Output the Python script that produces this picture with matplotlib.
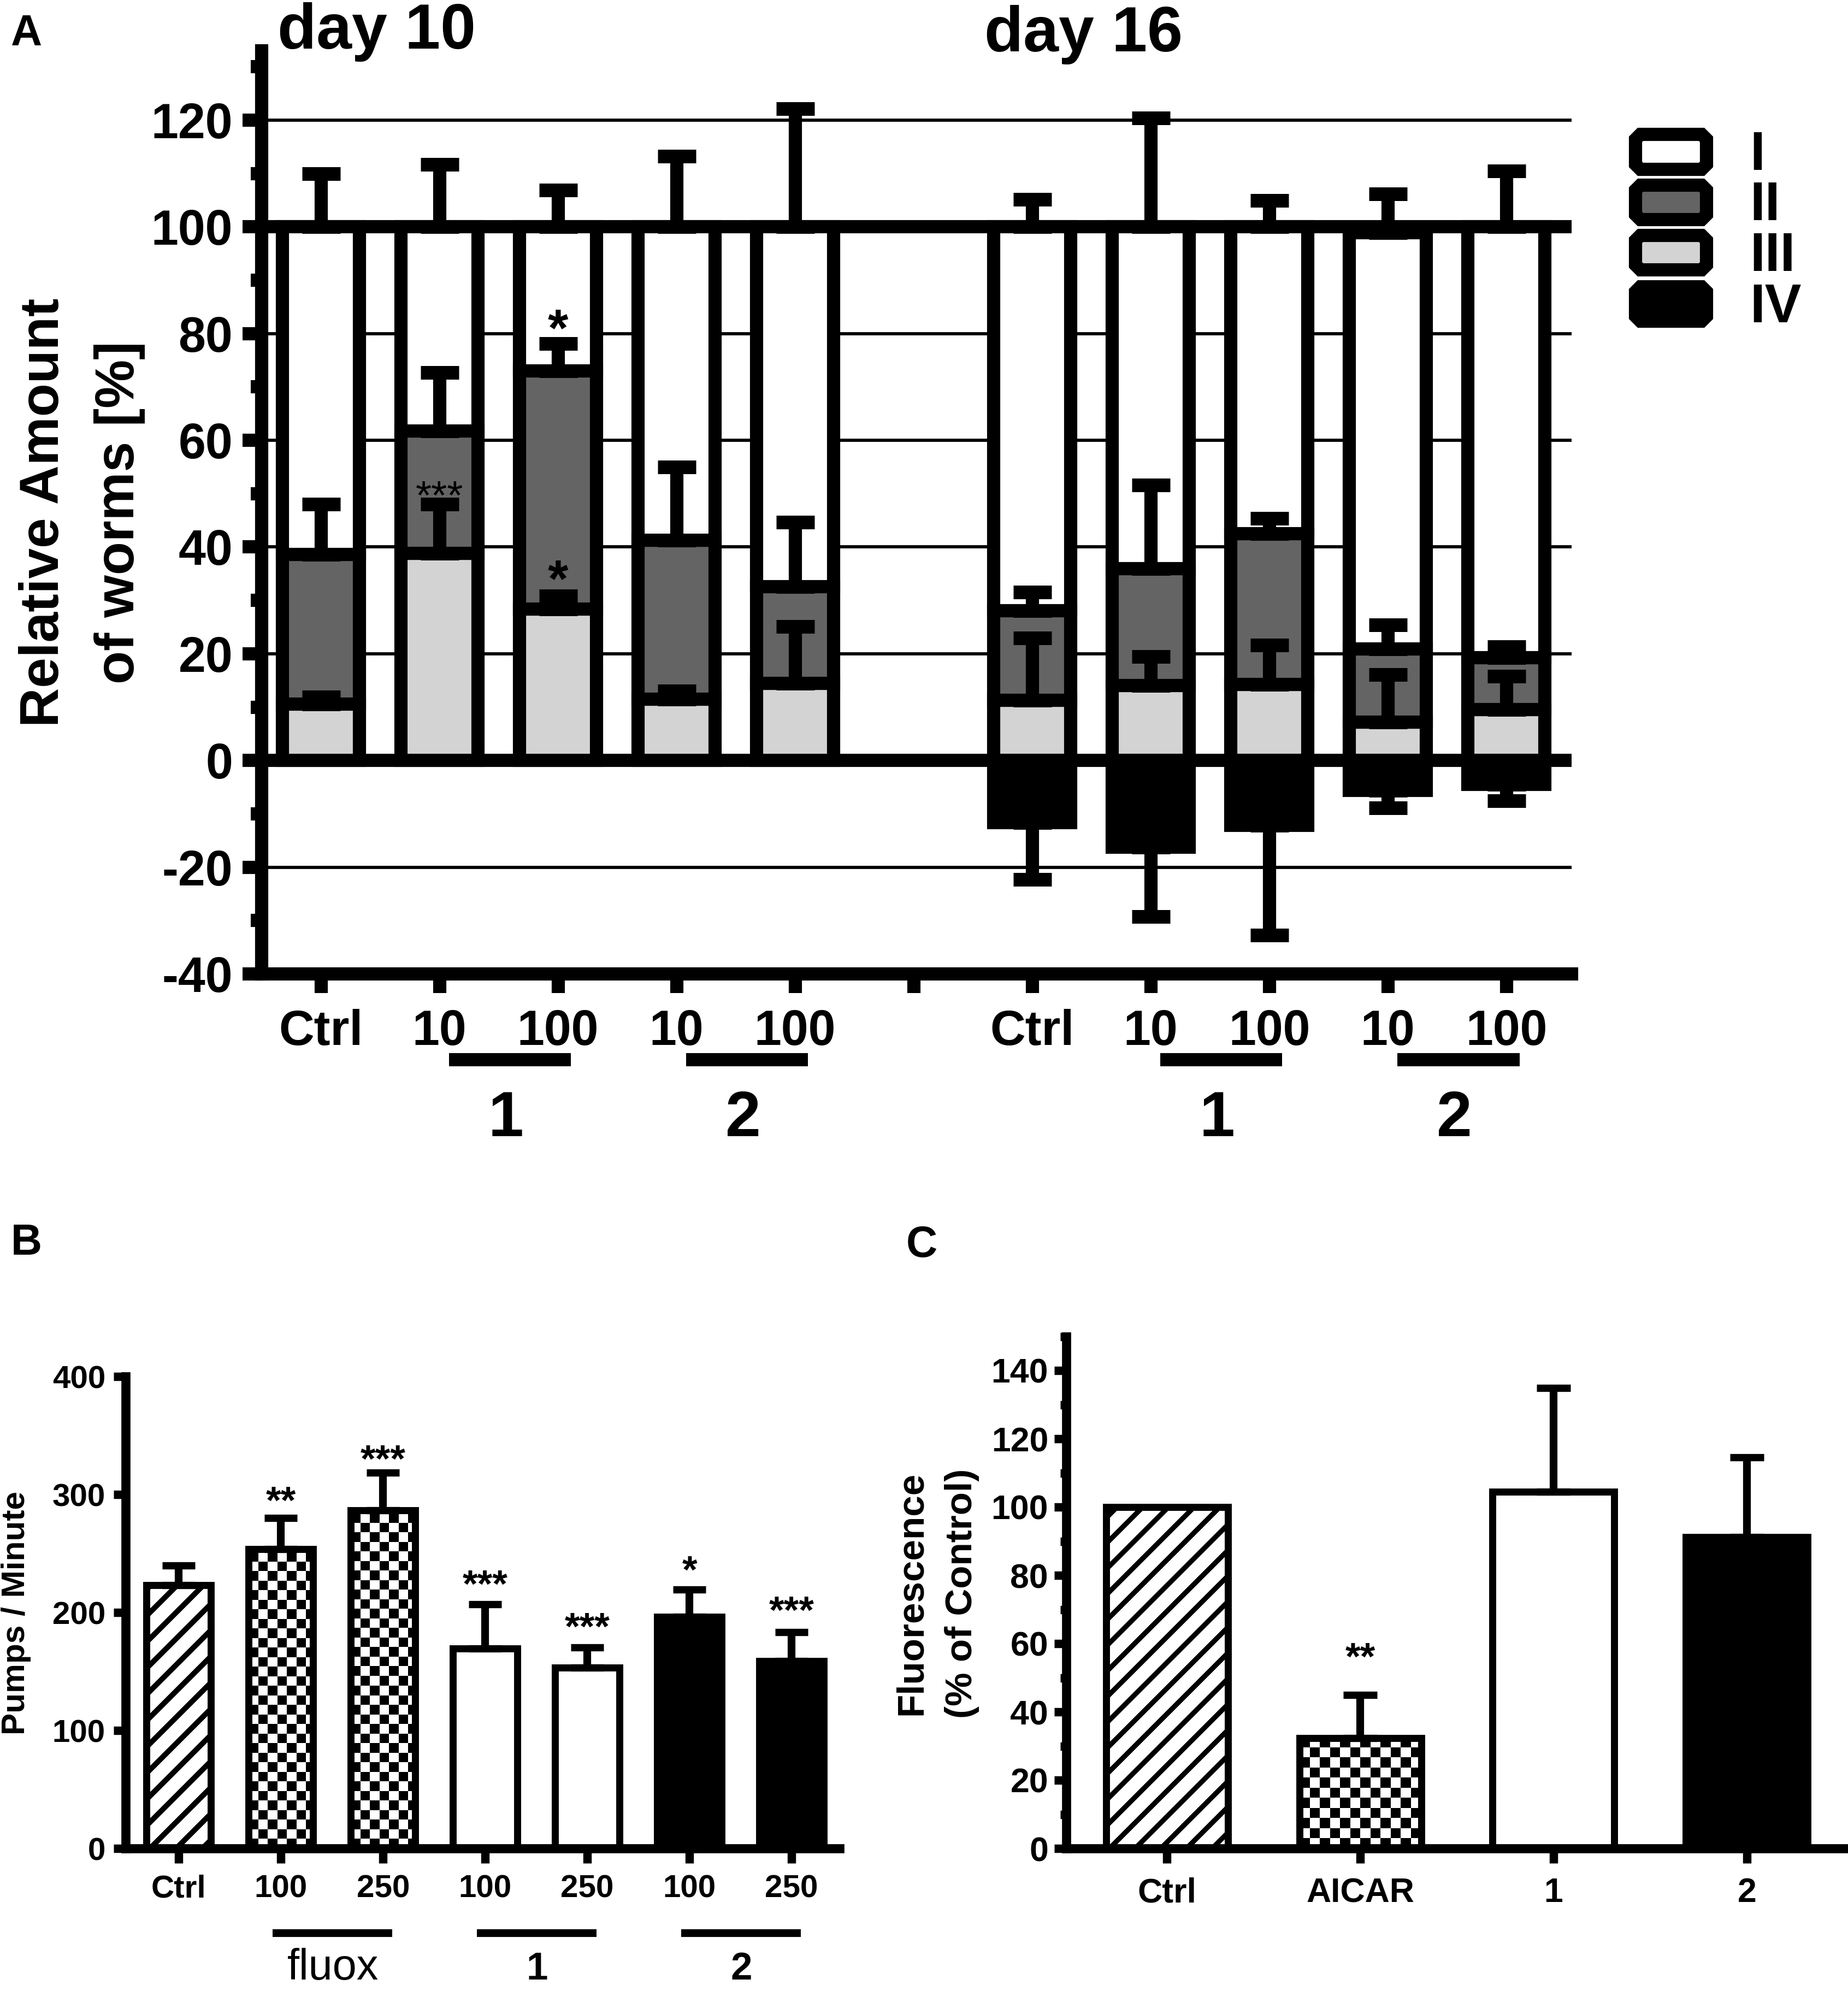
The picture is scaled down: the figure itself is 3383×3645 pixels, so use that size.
import numpy as np
import matplotlib
matplotlib.use("Agg")
import matplotlib.pyplot as plt
from matplotlib.patches import Polygon
from matplotlib.transforms import blended_transform_factory

W, H, DPI = 3383, 3645, 300

plt.rcParams['font.family'] = ['Liberation Sans', 'DejaVu Sans']
plt.rcParams['font.weight'] = 'bold'
plt.rcParams['axes.unicode_minus'] = False

# ---------------- data: panel A (stacked stages, % of worms) ----------------
a_pos = [0, 1, 2, 3, 4, 6, 7, 8, 9, 10]
a_ticklabels = ["Ctrl", "10", "100", "10", "100", "", "Ctrl", "10", "100", "10", "100"]
stage_iii = [10.6, 38.8, 28.4, 11.5, 14.5, 11.3, 14.0, 14.3, 7.2, 9.5]
stage_ii = [28.0, 23.0, 44.6, 29.8, 18.1, 16.8, 22.0, 28.2, 13.7, 9.8]
stage_i = [61.4, 38.2, 27.0, 58.7, 67.4, 71.9, 64.0, 57.5, 78.0, 80.7]
stage_iv = [0, 0, 0, 0, 0, 11.6, 16.2, 12.2, 5.6, 4.5]
err_i = [10.0, 11.7, 6.9, 13.2, 22.2, 5.2, 20.4, 5.0, 7.3, 10.5]
err_ii = [9.4, 10.9, 5.1, 13.7, 12.1, 3.5, 15.6, 2.9, 4.5, 2.0]
err_iii = [1.3, 9.2, 2.4, 1.5, 10.6, 11.7, 5.5, 7.3, 8.9, 6.3]
err_iv = [0, 0, 0, 0, 0, 10.7, 13.1, 20.5, 3.3, 3.1]
a_star_x = [1, 2, 2]
a_star_y = [51.6, 36.5, 83.5]
a_star_txt = ["***", "*", "*"]
a_star_size = [18, 23, 23]
a_star_weight = ["normal", "bold", "bold"]
a_groups = [("1", 1), ("2", 3), ("1", 7), ("2", 9)]
a_days = [("day 10", 508, 89), ("day 16", 1802, 94)]
stage_names = ["I", "II", "III", "IV"]
stage_colors = ["white", "#646464", "#d3d3d3", "black"]

# ---------------- data: panel B (pumps / minute) ----------------
b_labels = ["Ctrl", "100", "250", "100", "250", "100", "250"]
b_vals = [223, 253.7, 286.6, 169.4, 153.3, 196.3, 158.8]
b_err = [17.0, 26.3, 31.9, 37.5, 17.1, 23.2, 24.5]
b_fill = ["stripe", "checker", "checker", "white", "white", "black", "black"]
b_star_txt = ["", "**", "***", "***", "***", "*", "***"]
b_star_y = [0, 302.8, 338, 232, 196, 244, 210]
b_groups = [("fluox", 1), ("1", 3), ("2", 5)]

# ---------------- data: panel C (fluorescence) ----------------
c_labels = ["Ctrl", "AICAR", "1", "2"]
c_vals = [100, 32.3, 104.5, 91.2]
c_err = [0, 12.7, 30.4, 23.4]
c_fill = ["stripe", "checker", "white", "black"]
c_star_txt = ["", "**", "", ""]
c_star_y = [0, 58.9, 0, 0]


def fx(px):
    return px / W


def fy(py):
    return 1 - py / H


def fill_texture(ax, bar, kind, cell=17.5, period=48, thick=14):
    # pixel pattern clipped to the bar outline
    x0, y0 = bar.get_x(), bar.get_y()
    x1, y1 = x0 + bar.get_width(), y0 + bar.get_height()
    (p0x, p0y), (p1x, p1y) = ax.transData.transform([(x0, y0), (x1, y1)])
    nx, ny = int(round(p1x - p0x)), int(round(p1y - p0y))
    ix, iy = np.meshgrid(np.arange(nx), np.arange(ny))
    if kind == "checker":
        img = ((ix // cell).astype(int) + (iy // cell).astype(int)) % 2
    else:
        img = (((ix - iy) % period) >= thick).astype(int)
    im = ax.imshow(img, extent=[x0, x1, y0, y1], origin="lower", cmap="gray",
                   vmin=0, vmax=1, interpolation="nearest", aspect="auto",
                   zorder=bar.get_zorder() - 0.05)
    im.set_clip_path(bar)


def stars(ax, xs, ys, txts, sizes, weights):
    for x, y, t, s, w in zip(xs, ys, txts, sizes, weights):
        if not t:
            continue
        ax.annotate(t, (x, y), xytext=(0, -0.58 * s), textcoords="offset points",
                    ha="center", va="baseline", fontsize=s, fontweight=w)


def group_line(ax, x0, x1, ypx, lw):
    tr = blended_transform_factory(ax.transData, fig.transFigure)
    ax.plot([x0, x1], [fy(ypx), fy(ypx)], color="k", lw=lw, transform=tr,
            clip_on=False, solid_capstyle="butt")


def group_text(ax, x, ypx, s, size, weight="bold"):
    tr = blended_transform_factory(ax.transData, fig.transFigure)
    ax.text(x, fy(ypx), s, transform=tr, ha="center", va="baseline",
            fontsize=size, fontweight=weight)


def octagon(x0, y0, x1, y1, c):
    # corners cut like the GraphPad legend boxes, pixel input -> inches
    pts = [(x0 + c, y0), (x1 - c, y0), (x1, y0 + c), (x1, y1 - c),
           (x1 - c, y1), (x0 + c, y1), (x0, y1 - c), (x0, y0 + c)]
    return [(px / DPI, (H - py) / DPI) for px, py in pts]


fig = plt.figure(figsize=(W / DPI, H / DPI), dpi=DPI)

# ======================= panel A =======================
axA = fig.add_axes([fx(479), fy(1783), 2398 / W, (1783 - 93) / H])
axA.set_xlim(-0.5, 10.55)
axA.set_ylim(-40, 133)
axA.set_autoscale_on(False)

iii = np.array(stage_iii)
ii = np.array(stage_ii)
i_ = np.array(stage_i)
iv = np.array(stage_iv)
top_iii = iii
top_ii = iii + ii
top_i = iii + ii + i_

for v in [-20, 20, 40, 60, 80, 120]:
    axA.axhline(v, color="k", lw=1.4, zorder=0.5)
for v in [0, 100]:
    axA.axhline(v, color="k", lw=5.8, zorder=1, solid_capstyle="butt")

bw = 0.65
elw = 5.8
axA.bar(a_pos, iii, width=bw, color=stage_colors[2], edgecolor="k", lw=elw, zorder=2)
axA.bar(a_pos, ii, bottom=top_iii, width=bw, color=stage_colors[1], edgecolor="k", lw=elw, zorder=2)
axA.bar(a_pos, i_, bottom=top_ii, width=bw, color=stage_colors[0], edgecolor="k", lw=elw, zorder=2)
has_iv = iv > 0
pos_iv = np.array(a_pos)[has_iv]
axA.bar(pos_iv, -iv[has_iv], width=bw, color="k", edgecolor="k", lw=elw, zorder=2)

eb = dict(fmt="none", ecolor="k", elinewidth=5.8, capsize=8.5, capthick=6, zorder=4)
zeros = np.zeros(len(a_pos))
axA.errorbar(a_pos, top_iii, yerr=[zeros, err_iii], **eb)
axA.errorbar(a_pos, top_ii, yerr=[zeros, err_ii], **eb)
axA.errorbar(a_pos, top_i, yerr=[zeros, err_i], **eb)
axA.errorbar(pos_iv, -iv[has_iv], yerr=[np.array(err_iv)[has_iv], np.zeros(has_iv.sum())], **eb)

stars(axA, a_star_x, a_star_y, a_star_txt, a_star_size, a_star_weight)

axA.set_xticks(range(11))
axA.set_xticklabels(a_ticklabels)
axA.set_yticks(range(-40, 121, 20))
axA.set_yticks(range(-30, 131, 20), minor=True)
axA.tick_params(axis="y", which="major", length=8.4, width=5.8, pad=4.3, labelsize=21.5)
axA.tick_params(axis="y", which="minor", length=4.8, width=5.8)
axA.tick_params(axis="x", which="major", length=8.4, width=5.8, pad=7, labelsize=21.5)
for s in ["top", "right"]:
    axA.spines[s].set_visible(False)
for s in ["left", "bottom"]:
    axA.spines[s].set_linewidth(5.8)
    axA.spines[s].set_capstyle("projecting")

for name, p in a_groups:
    group_line(axA, p + 0.08, p + 1.11, 1940, 5.8)
    group_text(axA, p + 0.56, 2080, name, 28)

for txt, xp, yp in a_days:
    fig.text(fx(xp), fy(yp), txt, ha="left", va="baseline", fontsize=28)

fig.text(fx(150), fy(938), "Relative Amount\nof worms [%]", rotation=90,
         ha="center", va="center", fontsize=24, linespacing=1.6, multialignment="center")

# legend boxes, stages I-IV
leg_y = [(234, 322), (327, 414), (419, 506), (513, 600)]
leg_base = [311, 403, 496, 590]
for name, col, (yt, yb), yl in zip(stage_names, stage_colors, leg_y, leg_base):
    poly = Polygon(octagon(2994, yt + 12, 3124, yb - 12, 9), closed=True,
                   facecolor=col, edgecolor="k", lw=5.8, joinstyle="miter",
                   transform=fig.dpi_scale_trans)
    fig.add_artist(poly)
    fig.text(fx(3203), fy(yl), name, ha="left", va="baseline", fontsize=24)

fig.text(fx(19), fy(83), "A", ha="left", va="baseline", fontsize=19)

# ======================= panel B =======================
axB = fig.add_axes([fx(230), fy(3384), 1307 / W, 864 / H])
axB.set_xlim(-0.52, 6.47)
axB.set_ylim(0, 400)
axB.set_autoscale_on(False)
b_x = np.arange(len(b_vals))
face = {"stripe": "none", "checker": "none", "white": "white", "black": "black"}
barsB = axB.bar(b_x, b_vals, width=0.63, color=[face[f] for f in b_fill],
                edgecolor="k", lw=3.1, zorder=2)
for bar, f in zip(barsB, b_fill):
    if f in ("stripe", "checker"):
        fill_texture(axB, bar, f)
axB.errorbar(b_x, b_vals, yerr=[np.zeros(len(b_x)), b_err], fmt="none", ecolor="k",
             elinewidth=3.4, capsize=7.2, capthick=3.2, zorder=4)
stars(axB, b_x, b_star_y, b_star_txt, [17] * len(b_x), ["bold"] * len(b_x))
axB.set_xticks(b_x)
axB.set_xticklabels(b_labels)
axB.set_yticks(range(0, 401, 100))
axB.tick_params(axis="y", length=5.3, width=3.7, pad=3.6, labelsize=14)
axB.tick_params(axis="x", length=6.5, width=3.7, pad=4.8, labelsize=14)
for s in ["top", "right"]:
    axB.spines[s].set_visible(False)
for s in ["left", "bottom"]:
    axB.spines[s].set_linewidth(4)
    axB.spines[s].set_capstyle("projecting")
for name, p in b_groups:
    group_line(axB, p - 0.08, p + 1.09, 3539, 3.4)
    group_text(axB, p + 0.51, 3624, name, 19 if name == "fluox" else 17,
               "normal" if name == "fluox" else "bold")
fig.text(fx(30), fy(2953), "Pumps / Minute", rotation=90, ha="center", va="center", fontsize=14.5)
fig.text(fx(20), fy(2297), "B", ha="left", va="baseline", fontsize=19)

# ======================= panel C =======================
axC = fig.add_axes([fx(1952), fy(3384), 1430 / W, 937.5 / H])
axC.set_xlim(-0.52, 3.52)
axC.set_ylim(0, 150)
axC.set_autoscale_on(False)
c_x = np.arange(len(c_vals))
barsC = axC.bar(c_x, c_vals, width=0.63, color=[face[f] for f in c_fill],
                edgecolor="k", lw=3.1, zorder=2)
for bar, f in zip(barsC, c_fill):
    if f in ("stripe", "checker"):
        fill_texture(axC, bar, f, cell=18.5, period=47, thick=13)
c_err_a = np.array(c_err)
has_err = c_err_a > 0
axC.errorbar(c_x[has_err], np.array(c_vals)[has_err],
             yerr=[np.zeros(has_err.sum()), c_err_a[has_err]], fmt="none", ecolor="k",
             elinewidth=3.4, capsize=7.5, capthick=3.2, zorder=4)
stars(axC, c_x, c_star_y, c_star_txt, [17] * len(c_x), ["bold"] * len(c_x))
axC.set_xticks(c_x)
axC.set_xticklabels(c_labels)
axC.set_yticks(range(0, 141, 20))
axC.set_yticks(range(10, 151, 20), minor=True)
axC.tick_params(axis="y", which="major", length=5.3, width=3.7, pad=2.6, labelsize=15)
axC.tick_params(axis="y", which="minor", length=2.6, width=3.7)
axC.tick_params(axis="x", length=6.5, width=3.7, pad=6, labelsize=15)
for s in ["top", "right"]:
    axC.spines[s].set_visible(False)
for s in ["left", "bottom"]:
    axC.spines[s].set_linewidth(4)
    axC.spines[s].set_capstyle("projecting")
fig.text(fx(1715), fy(2917), "Fluorescence\n(% of Control)", rotation=90, ha="center",
         va="center", fontsize=16.6, linespacing=1.55, multialignment="center")
fig.text(fx(1659), fy(2301), "C", ha="left", va="baseline", fontsize=19)

axB.set_xlim(-0.52, 6.47)
axB.set_ylim(0, 400)
axC.set_xlim(-0.52, 3.52)
axC.set_ylim(0, 150)

fig.savefig("out.png", dpi=DPI)
